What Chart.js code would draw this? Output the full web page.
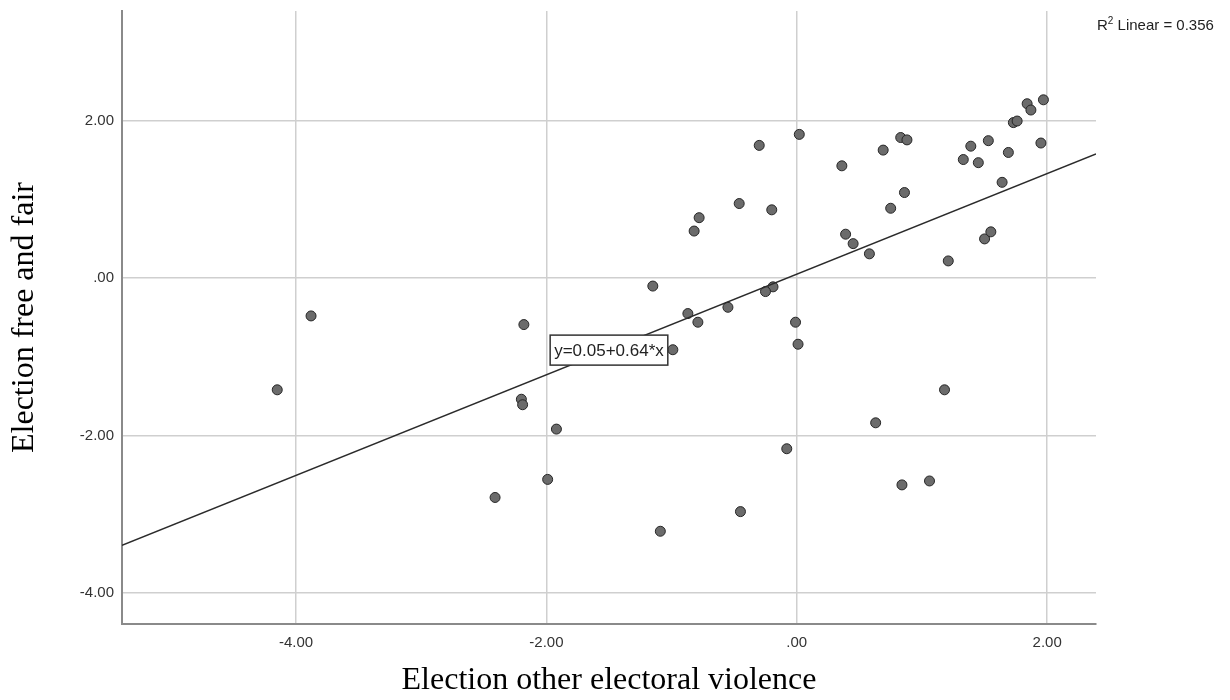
<!DOCTYPE html>
<html>
<head>
<meta charset="utf-8">
<title>Election scatter</title>
<script src="https://cdn.jsdelivr.net/npm/chart.js@4"></script>
<style>
    body { margin: 0; background: #ffffff; }
    #wrap { width: 1230px; height: 700px; position: relative; }
</style>
</head>
<body>
<div id="wrap"><canvas id="myChart"></canvas></div>
<script>
// values
const violence = [
    -3.88, -4.15, -2.18, -2.20, -2.19, -2.41, -0.87, -0.79, -0.55, -0.99,
    -0.01, 0.01, -1.92, -1.99, -0.08, -0.45, -1.09, 1.18, 0.63, 0.84,
    1.06, -0.30, 0.02, -0.46, -0.20, -0.78, -0.82, -1.15, -0.19, -0.25,
    0.36, 0.69, 0.83, 0.88, 0.86, 0.75, 0.39, 0.45, 0.58, 1.21,
    1.33, 1.39, 1.45, 1.53, 1.64, 1.69, 1.50, 1.55, 1.73, 1.76,
    1.84, 1.87, 1.97, 1.95
];
const freeFair = [
    -0.48, -1.42, -0.59, -1.54, -1.61, -2.79, -0.45, -0.56, -0.37, -0.91,
    -0.56, -0.84, -1.92, -2.56, -2.17, -2.97, -3.22, -1.42, -1.84, -2.63,
    -2.58, 1.69, 1.83, 0.95, 0.87, 0.77, 0.60, -0.10, -0.11, -0.17,
    1.43, 1.63, 1.79, 1.76, 1.09, 0.89, 0.56, 0.44, 0.31, 0.22,
    1.51, 1.68, 1.47, 1.75, 1.22, 1.60, 0.50, 0.59, 1.98, 2.00,
    2.22, 2.14, 2.27, 1.72
];

// fit line ends at the plot edges
const fitX = [-5.39, 2.39];
const fitY = [-3.40, 1.58];

const xTicks = [-4, -2, 0, 2];
const yTicks = [-4, -2, 0, 2];
const xTickLabels = ['-4.00', '-2.00', '.00', '2.00'];
const yTickLabels = ['-4.00', '-2.00', '.00', '2.00'];

const equationText = 'y=0.05+0.64*x';
const rSquared = '0.356';

const points = violence.map((v, i) => ({ x: v, y: freeFair[i] }));
const fitLine = fitX.map((v, i) => ({ x: v, y: fitY[i] }));

const sans = "'Liberation Sans', Arial, sans-serif";
const serif = "'Liberation Serif', 'Times New Roman', serif";

// equation box and R2 note
const notes = {
    id: 'notes',
    afterDatasetsDraw(chart) {
        const ctx = chart.ctx;
        const xs = chart.scales.x;
        const ys = chart.scales.y;

        ctx.save();
        ctx.font = '17px ' + sans;
        const w = ctx.measureText(equationText).width;
        const left = xs.getPixelForValue(-1.97);
        const mid = ys.getPixelForValue(-0.915);
        const h = 30;
        ctx.fillStyle = '#ffffff';
        ctx.fillRect(left, mid - h / 2, w + 8, h);
        ctx.strokeStyle = '#333333';
        ctx.lineWidth = 1.5;
        ctx.strokeRect(left, mid - h / 2, w + 8, h);
        ctx.fillStyle = '#222222';
        ctx.textBaseline = 'middle';
        ctx.textAlign = 'left';
        ctx.fillText(equationText, left + 4, mid + 1);

        // R2 Linear = ...
        let x = chart.chartArea.right + 1;
        const base = 30;
        ctx.textBaseline = 'alphabetic';
        ctx.font = '15px ' + sans;
        ctx.fillText('R', x, base);
        x += ctx.measureText('R').width;
        ctx.font = '10px ' + sans;
        ctx.fillText('2', x, base - 6);
        x += ctx.measureText('2').width;
        ctx.font = '15px ' + sans;
        ctx.fillText(' Linear = ' + rSquared, x, base);
        ctx.restore();
    }
};

const myChart = document.getElementById('myChart');

new Chart(myChart, {
    type: 'scatter',
    data: {
        datasets: [{
            type: 'line',
            data: fitLine,
            borderColor: '#2b2b2b',
            borderWidth: 1.5,
            pointRadius: 0,
            fill: false,
            order: 0
        }, {
            data: points,
            pointRadius: 5,
            pointBackgroundColor: '#6b6b6b',
            pointBorderColor: '#262626',
            pointBorderWidth: 1,
            order: 1
        }]
    },
    options: {
        responsive: true,
        maintainAspectRatio: false,
        animation: false,
        layout: {
            padding: { top: 11, right: 134, left: 0, bottom: 0 }
        },
        plugins: {
            legend: { display: false },
            tooltip: { enabled: false }
        },
        scales: {
            x: {
                type: 'linear',
                min: -5.39,
                max: 2.39,
                afterFit: s => { s.height = 76; s.paddingLeft = 0; s.paddingRight = 0; },
                afterBuildTicks: s => { s.ticks = xTicks.map(v => ({ value: v })); },
                grid: { color: '#cfcfcf', lineWidth: 1.5, drawTicks: false },
                border: { color: '#8a8a8a', width: 2 },
                ticks: {
                    padding: 10,
                    color: '#333333',
                    font: { family: sans, size: 15 },
                    callback: (v) => xTickLabels[xTicks.indexOf(v)]
                },
                title: {
                    display: true,
                    text: 'Election other electoral violence',
                    color: '#000000',
                    font: { family: serif, size: 32 },
                    padding: { top: 0, bottom: 0 }
                }
            },
            y: {
                type: 'linear',
                min: -4.40,
                max: 3.40,
                afterFit: s => { s.width = 122; s.paddingTop = 0; s.paddingBottom = 0; },
                afterBuildTicks: s => { s.ticks = yTicks.map(v => ({ value: v })); },
                grid: { color: '#cfcfcf', lineWidth: 1.5, drawTicks: false },
                border: { color: '#8a8a8a', width: 2 },
                ticks: {
                    padding: 8,
                    color: '#333333',
                    font: { family: sans, size: 15 },
                    callback: (v) => yTickLabels[yTicks.indexOf(v)]
                },
                title: {
                    display: true,
                    text: 'Election free and fair',
                    color: '#000000',
                    font: { family: serif, size: 32 },
                    padding: { top: 5, bottom: 0 }
                }
            }
        }
    },
    plugins: [notes]
});
</script>
</body>
</html>
